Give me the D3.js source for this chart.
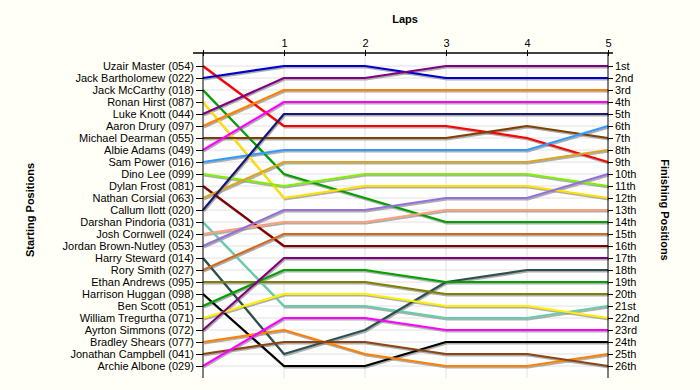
<!DOCTYPE html>
<html><head><meta charset="utf-8">
<script src="https://cdn.jsdelivr.net/npm/d3@7"></script>
<style>
body{margin:0;background:#FFFFF7;}
svg{display:block;}
text{font-family:"Liberation Sans",Arial,sans-serif;}
</style>
</head><body>
<svg id="c" width="700" height="390"></svg>
<script>
const drivers = [
  "Uzair Master (054)","Jack Bartholomew (022)","Jack McCarthy (018)","Ronan Hirst (087)",
  "Luke Knott (044)","Aaron Drury (097)","Michael Dearman (055)","Albie Adams (049)",
  "Sam Power (016)","Dino Lee (099)","Dylan Frost (081)","Nathan Corsial (063)",
  "Callum Ilott (020)","Darshan Pindoria (031)","Josh Cornwell (024)","Jordan Brown-Nutley (053)",
  "Harry Steward (014)","Rory Smith (027)","Ethan Andrews (095)","Harrison Huggan (098)",
  "Ben Scott (051)","William Tregurtha (071)","Ayrton Simmons (072)","Bradley Shears (077)",
  "Jonathan Campbell (041)","Archie Albone (029)"
];
const laps = [0,1,2,3,4,5];
const lapLabels = ["","1","2","3","4","5"];
// position of each driver at lap 0..5
const positions = [
  [1,6,6,6,7,9],
  [2,1,1,2,2,2],
  [3,10,12,14,14,14],
  [4,12,11,11,11,12],
  [5,2,2,1,1,1],
  [6,3,3,3,3,3],
  [7,7,7,7,6,7],
  [8,4,4,4,4,4],
  [9,8,8,8,8,6],
  [10,11,10,10,10,11],
  [11,16,16,16,16,16],
  [12,9,9,9,9,8],
  [13,5,5,5,5,5],
  [14,21,21,22,22,21],
  [15,14,14,13,13,13],
  [16,13,13,12,12,10],
  [17,25,23,19,18,18],
  [18,15,15,15,15,15],
  [19,19,19,20,20,20],
  [20,26,26,24,24,24],
  [21,18,18,19,19,19],
  [22,20,20,21,21,22],
  [23,17,17,17,17,17],
  [24,23,25,26,26,25],
  [25,24,24,25,25,26],
  [26,22,22,23,23,23]
];
const colors = [
  "#FF0000","#0000CC","#00A000","#FFE000","#800080","#FF8000","#804000","#FF00FF",
  "#3399FF","#80F000","#800000","#DAA520","#191970","#66CDAA","#FFA07A","#9370DB",
  "#2F4F4F","#D2691E","#808000","#000000","#00A000","#FFF000","#800080","#FF8000",
  "#8B4513","#FF00FF"
];
const finishLabels = ["1st","2nd","3rd","4th","5th","6th","7th","8th","9th","10th","11th","12th","13th",
  "14th","15th","16th","17th","18th","19th","20th","21st","22nd","23rd","24th","25th","26th"];
const rowNums = d3.range(1, 27);

const svg = d3.select("#c");
const x = d3.scaleLinear().domain([0,5]).range([203,608]);
const y = d3.scaleLinear().domain([0,27]).range([54,378]);

// plot background
svg.append("rect").attr("x", x(0)).attr("y", y(0)-1).attr("width", x(5)-x(0)).attr("height", y(27)-y(0)+1)
  .attr("fill", "#FFFFFF");

// grid
const g = svg.append("g");
g.selectAll("line.h").data(rowNums).join("line")
  .attr("x1", x(0)).attr("x2", x(5)).attr("y1", d=>y(d)).attr("y2", d=>y(d))
  .attr("stroke", "#E2E2E2").attr("stroke-width", 1);
g.selectAll("line.v").data(laps.slice(1,5)).join("line")
  .attr("x1", d=>x(d)).attr("x2", d=>x(d)).attr("y1", y(0)-1).attr("y2", y(27))
  .attr("stroke", "#E2E2E2").attr("stroke-width", 1);

// lines
const line = d3.line().x((d,i)=>x(laps[i])).y(d=>y(d));
const shadows = svg.append("g").attr("transform","translate(1,1.5)");
shadows.selectAll("path").data(positions).join("path")
  .attr("d", line).attr("fill","none").attr("stroke","#8C8C8C").attr("stroke-width",2).attr("stroke-opacity",0.7);
svg.append("g").selectAll("path").data(positions).join("path")
  .attr("d", line).attr("fill","none").attr("stroke",(d,i)=>colors[i]).attr("stroke-width",2.2)
  .attr("stroke-linejoin","round");

// left axis
const yl = d3.scaleOrdinal().domain(drivers).range(drivers.map((d,i)=>y(i+1)));
const leftAxis = d3.axisLeft(yl).tickSize(7).tickPadding(2);
const la = svg.append("g").attr("transform", `translate(${x(0)},0)`).call(leftAxis);
la.select(".domain").remove();
la.append("line").attr("x1",0).attr("x2",0).attr("y1",y(0)-1).attr("y2",y(27)).attr("stroke","#000");
la.selectAll("text").attr("font-size", 11).attr("fill","#000").attr("font-family","Liberation Sans, Arial, sans-serif");

// right axis
const yr = d3.scaleOrdinal().domain(finishLabels).range(finishLabels.map((d,i)=>y(i+1)));
const rightAxis = d3.axisRight(yr).tickSize(5).tickPadding(2);
const ra = svg.append("g").attr("transform", `translate(${x(5)},0)`).call(rightAxis);
ra.select(".domain").remove();
ra.append("line").attr("x1",0).attr("x2",0).attr("y1",y(0)-1).attr("y2",y(27)).attr("stroke","#000");
ra.selectAll("text").attr("font-size", 11).attr("fill","#000").attr("font-family","Liberation Sans, Arial, sans-serif");

// top axis
const topAxis = d3.axisTop(x).tickValues(laps).tickFormat((d,i)=>lapLabels[i]).tickSize(3).tickPadding(3);
const ta = svg.append("g").attr("transform", `translate(0,${y(0)-1})`).call(topAxis);
ta.select(".domain").remove();
ta.append("line").attr("x1",x(0)-10).attr("x2",x(5)+5).attr("y1",0).attr("y2",0).attr("stroke","#000").attr("stroke-width",1.5);
ta.selectAll(".tick line").attr("y2",3).attr("y1",-3).attr("stroke","#000");
ta.selectAll("text").attr("font-size", 11).attr("fill","#000").attr("font-family","Liberation Sans, Arial, sans-serif");

// titles
svg.append("text").attr("x", 405).attr("y", 23).attr("text-anchor","middle")
  .attr("font-size", 11).attr("font-weight","bold").text("Laps");
svg.append("text").attr("transform","translate(34,210) rotate(-90)").attr("text-anchor","middle")
  .attr("font-size", 11).attr("font-weight","bold").text("Starting Positions");
svg.append("text").attr("transform","translate(661,210) rotate(90)").attr("text-anchor","middle")
  .attr("font-size", 11).attr("font-weight","bold").text("Finishing Positions");
</script>
</body></html>
